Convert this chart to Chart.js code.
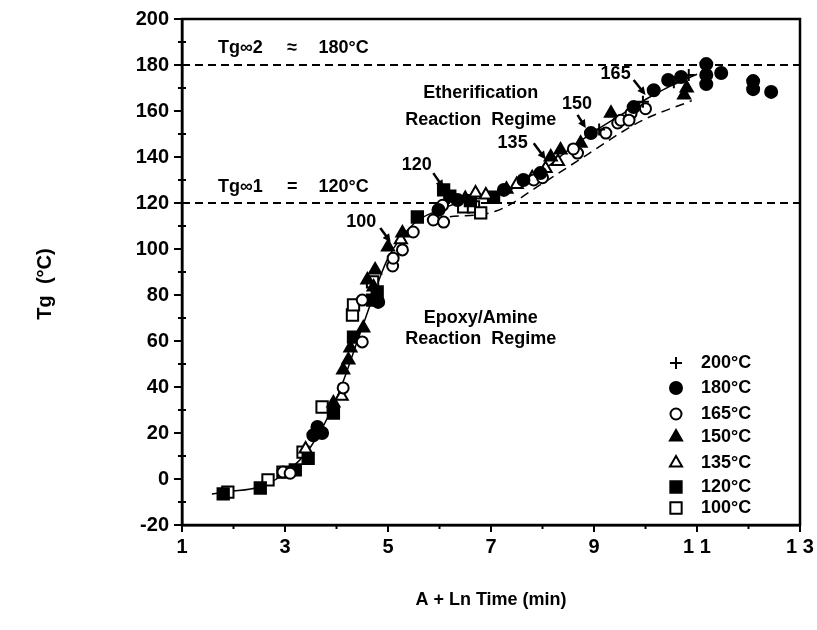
<!DOCTYPE html>
<html>
<head>
<meta charset="utf-8">
<script src="https://cdn.jsdelivr.net/npm/chart.js@4.4.0/dist/chart.umd.min.js"></script>
<style>
  html, body { margin: 0; padding: 0; background: #fff; }
  #wrap { position: relative; width: 817px; height: 630px; }
</style>
</head>
<body>
<div id="wrap"><canvas id="tgChart"></canvas></div>
<script>
// axis ticks
const xTickValues = [1, 3, 5, 7, 9, 11, 13];
const xTickText = ['1', '3', '5', '7', '9', '1 1', '1 3'];
const yTickValues = [-20, 0, 20, 40, 60, 80, 100, 120, 140, 160, 180, 200];

// plateau levels
const tgInf1 = 120;
const tgInf2 = 180;

// cure temperature series (A + ln t, Tg)
const s200x = [9.1, 9.95, 10.55, 10.84];
const s200y = [152, 164, 172.5, 175.7];

const s180x = [3.55, 3.63, 3.72, 4.81, 5.98, 6.35, 7.25, 7.63, 7.96, 8.94, 9.77, 10.16, 10.44, 10.69, 11.18, 11.18, 11.18, 11.47, 12.09, 12.09, 12.44];
const s180y = [19, 22.6, 20, 77, 117, 121.3, 125.7, 130, 133, 150.4, 161.7, 169, 173.5, 174.8, 180.4, 175.7, 171.7, 176.5, 173, 169.5, 168.3];

const s165x = [2.96, 3.1, 3.6, 4.13, 4.5, 4.5, 5.09, 5.1, 5.28, 5.49, 5.88, 6.08, 6.06, 7.83, 8.0, 8.68, 8.6, 9.23, 9.46, 9.52, 9.72, 9.68, 10.0];
const s165y = [3, 2.5, 20, 39.6, 59.6, 77.8, 92.6, 96, 99.6, 107.4, 112.6, 111.7, 119, 130, 131, 141.7, 143.5, 150.4, 154.8, 156, 159, 156, 161];

const s150x = [3.94, 4.13, 4.23, 4.27, 4.52, 4.72, 4.6, 4.75, 5.0, 5.28, 6.5, 7.3, 8.16, 8.35, 8.74, 9.33, 10.75, 10.8];
const s150y = [33, 47.4, 51.7, 57, 65.7, 83.5, 86.5, 90.9, 100.9, 107, 122, 126, 140, 143, 146, 159, 167, 170];

const s135x = [3.4, 4.1, 5.25, 6.7, 6.9, 7.5, 7.8, 8.06, 8.3];
const s135y = [13, 36, 104, 124.3, 123.5, 128, 131, 135, 138];

const s120x = [1.8, 2.52, 3.2, 3.45, 3.94, 4.33, 4.7, 4.79, 5.57, 6.08, 6.2, 6.6, 7.05];
const s120y = [-6.5, -3.9, 4, 9, 28.7, 61.7, 77.8, 81.3, 113.9, 125.7, 123, 121, 122.5];

const s100x = [1.89, 2.67, 2.96, 3.35, 3.72, 4.31, 4.33, 4.7, 6.47, 6.66, 6.8];
const s100y = [-5.7, -0.4, 3, 11.7, 31.3, 71.3, 75.7, 85.7, 118.3, 118.3, 115.7];

// master curve (solid) and lower branch (dashed)
const masterX = [1.58, 1.9, 2.5, 3.0, 3.5, 4.0, 4.5, 5.0, 5.5, 6.0, 6.5, 7.0, 7.5, 8.0, 8.5, 9.0, 9.5, 10.0, 10.5, 11.0];
const masterY = [-6.5, -5.5, -3.5, 2.5, 14, 35, 66, 96, 111, 117, 121, 123, 127, 134, 143, 151, 158, 165, 171, 176];
const branchX = [6.2, 7.1, 8.0, 8.9, 9.9, 10.9];
const branchY = [114, 116.5, 128.5, 141.5, 155.5, 164.5];

const seriesLabels = ['200°C', '180°C', '165°C', '150°C', '135°C', '120°C', '100°C'];

const FONT = '"Liberation Sans", Arial, Helvetica, sans-serif';

function pts(xs, ys) {
  return xs.map((x, i) => ({ x: x, y: ys[i] }));
}

const markerDefs = [
  { style: 'cross', fill: false, r: 6 },
  { style: 'circle', fill: true, r: 6 },
  { style: 'circle', fill: false, r: 5.5 },
  { style: 'triangle', fill: true, r: 7 },
  { style: 'triangle', fill: false, r: 7 },
  { style: 'rect', fill: true, r: 8 },
  { style: 'rect', fill: false, r: 8 }
];
const seriesData = [
  pts(s200x, s200y), pts(s180x, s180y), pts(s165x, s165y), pts(s150x, s150y),
  pts(s135x, s135y), pts(s120x, s120y), pts(s100x, s100y)
];

const pointSets = seriesData.map((d, i) => ({
  label: seriesLabels[i],
  data: d,
  showLine: false,
  pointStyle: markerDefs[i].style,
  pointRadius: markerDefs[i].r,
  pointBorderWidth: 2,
  borderColor: '#000',
  backgroundColor: markerDefs[i].fill ? '#000' : '#fff',
  order: 1
}));

const lineSets = [
  { label: 'master', data: pts(masterX, masterY), showLine: true, pointRadius: 0,
    borderColor: '#000', borderWidth: 1.5, cubicInterpolationMode: 'monotone', order: 5 },
  { label: 'branch', data: pts(branchX, branchY), showLine: true, pointRadius: 0,
    borderColor: '#000', borderWidth: 1.5, borderDash: [9, 6], cubicInterpolationMode: 'monotone', order: 5 },
  { label: 'tg1', data: [{ x: 1, y: tgInf1 }, { x: 13, y: tgInf1 }], showLine: true, pointRadius: 0,
    borderColor: '#000', borderWidth: 2, borderDash: [8, 5], order: 6 },
  { label: 'tg2', data: [{ x: 1, y: tgInf2 }, { x: 13, y: tgInf2 }], showLine: true, pointRadius: 0,
    borderColor: '#000', borderWidth: 2, borderDash: [8, 5], order: 6 }
];

// text notes, in data units
const notes = [
  { t: 'Tg\u221E2', x: 1.70, y: 187.4, a: 'left' },
  { t: '\u2248', x: 3.14, y: 187.4, a: 'center' },
  { t: '180°C', x: 3.65, y: 187.4, a: 'left' },
  { t: 'Tg\u221E1', x: 1.70, y: 127, a: 'left' },
  { t: '=', x: 3.14, y: 127, a: 'center' },
  { t: '120°C', x: 3.65, y: 127, a: 'left' },
  { t: 'Etherification', x: 6.8, y: 167.6, a: 'center' },
  { t: 'Reaction  Regime', x: 6.8, y: 156, a: 'center' },
  { t: 'Epoxy/Amine', x: 6.8, y: 70, a: 'center' },
  { t: 'Reaction  Regime', x: 6.8, y: 61, a: 'center' }
];
const arrows = [
  { t: '100', tx: 4.48, ty: 111.7, fx: 4.85, fy: 109.1, x: 5.05, y: 103 },
  { t: '120', tx: 5.56, ty: 136.5, fx: 5.88, fy: 133, x: 6.08, y: 126.5 },
  { t: '135', tx: 7.42, ty: 146, fx: 7.83, fy: 146, x: 8.06, y: 139 },
  { t: '150', tx: 8.67, ty: 163, fx: 8.68, fy: 158.3, x: 8.84, y: 152.6 },
  { t: '165', tx: 9.42, ty: 176, fx: 9.77, fy: 173.5, x: 10.0, y: 167 }
];

function drawMarker(ctx, def, x, y) {
  const r = def.r;
  ctx.save();
  ctx.lineWidth = 2;
  ctx.strokeStyle = '#000';
  ctx.fillStyle = def.fill ? '#000' : '#fff';
  ctx.beginPath();
  if (def.style === 'cross') {
    ctx.moveTo(x - r, y); ctx.lineTo(x + r, y);
    ctx.moveTo(x, y - r); ctx.lineTo(x, y + r);
    ctx.stroke();
  } else if (def.style === 'circle') {
    ctx.arc(x, y, r, 0, Math.PI * 2);
    ctx.fill(); ctx.stroke();
  } else if (def.style === 'triangle') {
    for (let k = 0; k < 3; k++) {
      const a = k * 2 * Math.PI / 3;
      const px = x + Math.sin(a) * r, py = y - Math.cos(a) * r;
      if (k === 0) ctx.moveTo(px, py); else ctx.lineTo(px, py);
    }
    ctx.closePath(); ctx.fill(); ctx.stroke();
  } else {
    const s = r * Math.SQRT1_2;
    ctx.rect(x - s, y - s, 2 * s, 2 * s);
    ctx.fill(); ctx.stroke();
  }
  ctx.restore();
}

const decorPlugin = {
  id: 'decor',
  afterDraw(chart) {
    const ctx = chart.ctx;
    const { left, right, top, bottom } = chart.chartArea;
    const xs = chart.scales.x, ys = chart.scales.y;
    ctx.save();
    ctx.strokeStyle = '#000';
    ctx.fillStyle = '#000';

    // frame
    ctx.lineWidth = 2.5;
    ctx.strokeRect(left, top, right - left, bottom - top);

    // ticks
    ctx.lineWidth = 2;
    ctx.beginPath();
    for (let v = 1; v <= 13; v++) {
      const px = xs.getPixelForValue(v);
      ctx.moveTo(px, bottom);
      ctx.lineTo(px, bottom + (v % 2 === 1 ? 7 : 4));
    }
    for (let v = -20; v <= 200; v += 10) {
      const py = ys.getPixelForValue(v);
      if (v % 20 === 0) { ctx.moveTo(left - 8, py); ctx.lineTo(left, py); }
      else { ctx.moveTo(left - 4, py); ctx.lineTo(left + 4, py); }
    }
    ctx.stroke();

    // y axis title, sitting a little below the plot middle as in the original
    ctx.save();
    ctx.translate(45, 284);
    ctx.rotate(-Math.PI / 2);
    ctx.font = 'bold 20px ' + FONT;
    ctx.textAlign = 'center';
    ctx.textBaseline = 'middle';
    ctx.fillText('Tg  (°C)', 0, 0);
    ctx.restore();

    // notes
    ctx.font = 'bold 18px ' + FONT;
    ctx.textBaseline = 'middle';
    notes.forEach(n => {
      ctx.textAlign = n.a;
      ctx.fillText(n.t, xs.getPixelForValue(n.x), ys.getPixelForValue(n.y));
    });

    // arrow labels
    arrows.forEach(a => {
      ctx.textAlign = 'center';
      ctx.fillText(a.t, xs.getPixelForValue(a.tx), ys.getPixelForValue(a.ty));
      const x0 = xs.getPixelForValue(a.fx), y0 = ys.getPixelForValue(a.fy);
      const x1 = xs.getPixelForValue(a.x), y1 = ys.getPixelForValue(a.y);
      const ang = Math.atan2(y1 - y0, x1 - x0);
      ctx.lineWidth = 2.5;
      ctx.beginPath();
      ctx.moveTo(x0, y0);
      ctx.lineTo(x1 - 5 * Math.cos(ang), y1 - 5 * Math.sin(ang));
      ctx.stroke();
      ctx.beginPath();
      ctx.moveTo(x1, y1);
      ctx.lineTo(x1 - 8 * Math.cos(ang) + 4 * Math.sin(ang), y1 - 8 * Math.sin(ang) - 4 * Math.cos(ang));
      ctx.lineTo(x1 - 8 * Math.cos(ang) - 4 * Math.sin(ang), y1 - 8 * Math.sin(ang) + 4 * Math.cos(ang));
      ctx.closePath();
      ctx.fill();
    });

    // legend
    const rowY = [363, 388, 414, 437, 463, 487, 508];
    ctx.textAlign = 'left';
    seriesLabels.forEach((lab, i) => {
      drawMarker(ctx, markerDefs[i], right - 124, rowY[i]);
      ctx.fillStyle = '#000';
      ctx.fillText(lab, right - 99, rowY[i]);
    });
    ctx.restore();
  }
};

Chart.defaults.font.family = FONT;
Chart.defaults.color = '#000';

new Chart(document.getElementById('tgChart'), {
  type: 'scatter',
  data: { datasets: pointSets.concat(lineSets) },
  options: {
    responsive: true,
    maintainAspectRatio: false,
    animation: false,
    events: [],
    layout: { padding: { top: 19, right: 17, left: 0, bottom: 0 } },
    plugins: { legend: { display: false }, tooltip: { enabled: false } },
    scales: {
      x: {
        type: 'linear', min: 1, max: 13,
        afterBuildTicks: s => { s.ticks = xTickValues.map(v => ({ value: v })); },
        afterFit: s => { s.height = 105; },
        grid: { display: false, drawTicks: false },
        border: { display: true, color: '#000', width: 2.5 },
        ticks: {
          padding: 3,
          font: { size: 20, weight: 'bold', lineHeight: 1.9 },
          callback: v => xTickText[xTickValues.indexOf(v)]
        },
        title: {
          display: true, text: 'A + Ln Time (min)',
          font: { size: 18, weight: 'bold' },
          padding: { top: 0, bottom: 19 }
        }
      },
      y: {
        type: 'linear', min: -20, max: 200,
        afterBuildTicks: s => { s.ticks = yTickValues.map(v => ({ value: v })); },
        afterFit: s => { s.width = 182; },
        grid: { display: false, drawTicks: false },
        border: { display: true, color: '#000', width: 2.5 },
        ticks: { padding: 13, font: { size: 20, weight: 'bold', lineHeight: 0.6 } },
        title: { display: false }
      }
    }
  },
  plugins: [decorPlugin]
});
</script>
</body>
</html>
